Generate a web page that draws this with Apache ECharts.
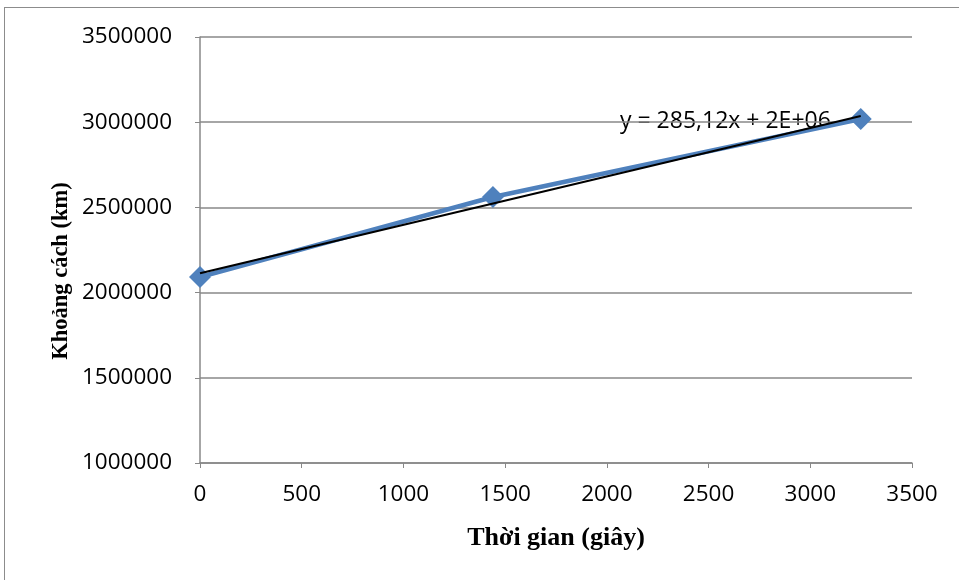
<!DOCTYPE html>
<html><head><meta charset="utf-8">
<script src="https://cdn.jsdelivr.net/npm/echarts@6/dist/echarts.min.js"></script>
<style>html,body{margin:0;padding:0;background:#fff}#c{width:959px;height:580px}
#frame{position:absolute;left:4px;top:7px;width:960px;height:580px;border-left:1.5px solid #8c8c8c;border-top:1.5px solid #8c8c8c;pointer-events:none}</style>
</head><body><div id="c"></div><div id="frame"></div>
<script>
var timeSec = [0, 1440, 3248];
var distanceKm = [2091500, 2561000, 3018800];
var xTicks = [0, 500, 1000, 1500, 2000, 2500, 3000, 3500];
var yTicks = [1000000, 1500000, 2000000, 2500000, 3000000, 3500000];
var trendLabel = 'y = 285,12x + 2E+06';
var xTitle = 'Thời gian (giây)';
var yTitle = 'Khoảng cách (km)';

// least squares trendline
var n = timeSec.length, mx = 0, my = 0;
for (var i = 0; i < n; i++) { mx += timeSec[i]; my += distanceKm[i]; }
mx /= n; my /= n;
var sxy = 0, sxx = 0;
for (var i = 0; i < n; i++) { sxy += (timeSec[i]-mx)*(distanceKm[i]-my); sxx += (timeSec[i]-mx)*(timeSec[i]-mx); }
var slope = sxy / sxx, icpt = my - slope * mx;
var xEnd = timeSec[n-1];
var trend = [[0, icpt], [xEnd, icpt + slope * xEnd]];

var plain = function (v) { return String(v); };
var chart = echarts.init(document.getElementById('c'));
chart.setOption({
  animation: false,
  grid: {left: 200, right: 47, top: 37, bottom: 117},
  xAxis: {
    type: 'value', min: xTicks[0], max: xTicks[xTicks.length-1], interval: 500,
    axisLine: {show: true, lineStyle: {color: '#888', width: 1.5}},
    axisTick: {show: true, length: 5, lineStyle: {color: '#888'}},
    axisLabel: {fontFamily: 'Open Sans', fontSize: 22.5, color: '#000', margin: 20, formatter: plain},
    splitLine: {show: false}
  },
  yAxis: {
    type: 'value', min: yTicks[0], max: yTicks[yTicks.length-1], interval: 500000,
    axisLine: {show: true, lineStyle: {color: '#888', width: 1.5}},
    axisTick: {show: true, length: 5, lineStyle: {color: '#888'}},
    axisLabel: {fontFamily: 'Open Sans', fontSize: 22.5, color: '#000', margin: 28, formatter: plain},
    splitLine: {show: true, lineStyle: {color: '#888', width: 1.5}}
  },
  series: [
    {
      type: 'line', data: timeSec.map(function(t, i){ return [t, distanceKm[i]]; }),
      lineStyle: {color: '#4F81BD', width: 4.5},
      itemStyle: {color: '#4F81BD'},
      symbol: 'diamond', symbolSize: [22, 22], z: 2
    },
    {
      type: 'line', data: trend, symbol: 'none', z: 3,
      lineStyle: {color: '#000', width: 2}
    }
  ],
  graphic: [
    {type: 'text', x: 620, y: 121,
     style: {text: trendLabel, font: '23px "Open Sans"', fill: '#000', textAlign: 'left', textVerticalAlign: 'middle'}},
    {type: 'text', x: 556, y: 538,
     style: {text: xTitle, font: 'bold 26px "Liberation Serif"', fill: '#000', textAlign: 'center', textVerticalAlign: 'middle'}},
    {type: 'text', x: 61, y: 271, rotation: Math.PI / 2,
     style: {text: yTitle, font: 'bold 22.5px "Liberation Serif"', fill: '#000', textAlign: 'center', textVerticalAlign: 'middle'}}
  ]
});
</script></body></html>
